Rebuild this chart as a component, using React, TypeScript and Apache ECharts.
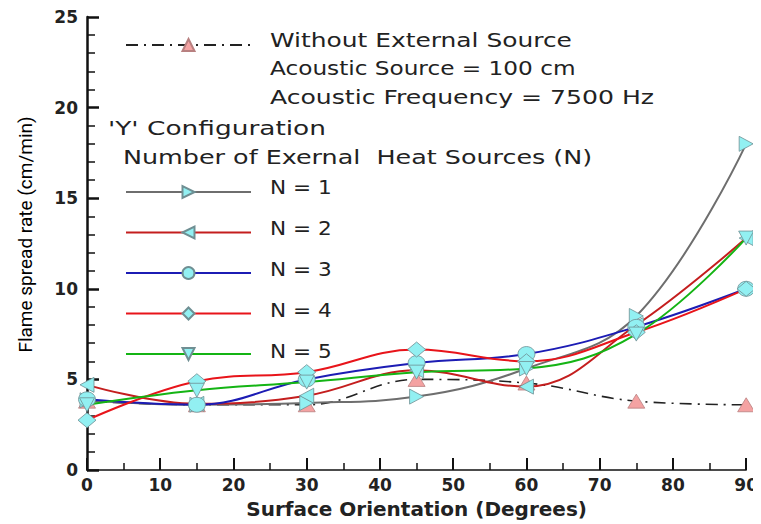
import React, { useEffect, useRef } from 'react';
import * as echarts from 'echarts';

const angles = [0, 15, 30, 45, 60, 75, 90];
const withoutSource = [3.8, 3.6, 3.6, 5.0, 4.8, 3.8, 3.6];
const n1 = [3.85, 3.6, 3.7, 4.05, 5.6, 8.5, 18.0];
const n2 = [4.7, 3.65, 4.1, 5.5, 4.6, 8.0, 12.8];
const n3 = [3.9, 3.6, 5.0, 5.9, 6.4, 7.9, 10.0];
const n4 = [2.75, 4.9, 5.4, 6.65, 6.0, 7.6, 10.0];
const n5 = [3.6, 4.4, 4.85, 5.4, 5.6, 7.5, 12.8];

const withoutName = 'Without External Source';
const nNames = ['N = 1', 'N = 2', 'N = 3', 'N = 4', 'N = 5'];
const noteLines = ['Acoustic Source = 100 cm', 'Acoustic Frequency = 7500 Hz'];
const configLine = "'Y' Configuration";
const numberLine = 'Number of Exernal\u00a0 Heat Sources (N)';

const FONT = 'DejaVu Sans';
const CYAN = '#92f0f2';
const MARKER_BORDER = '#6f8f93';

const pair = (ys: number[]) => ys.map((y, i) => [angles[i], y]);

export default function App() {
  const ref = useRef<HTMLDivElement>(null);
  useEffect(() => {
    if (!ref.current) return;
    const chart = echarts.init(ref.current, null, { renderer: 'svg' });
    const nSeries = [
      { name: nNames[0], data: n1, color: '#6e6e6e', symbol: 'triangle', rot: -90, size: [15, 14] },
      { name: nNames[1], data: n2, color: '#c41e1e', symbol: 'triangle', rot: 90, size: [15, 14] },
      { name: nNames[2], data: n3, color: '#1c1cb4', symbol: 'circle', rot: 0, size: [17, 15] },
      { name: nNames[3], data: n4, color: '#e8141a', symbol: 'diamond', rot: 0, size: [18, 15] },
      { name: nNames[4], data: n5, color: '#14b414', symbol: 'triangle', rot: 180, size: [15, 14] },
    ].map((s) => ({
      type: 'line',
      name: s.name,
      data: pair(s.data),
      smooth: 0.4,
      symbol: s.symbol,
      symbolRotate: s.rot,
      symbolSize: s.size,
      showAllSymbol: true,
      lineStyle: { color: s.color, width: 2 },
      itemStyle: { color: CYAN, borderColor: MARKER_BORDER, borderWidth: 0.8 },
      z: 3,
    }));
    const textEl = (t: string, x: number, y: number, sx: number) => ({
      type: 'text',
      x,
      y,
      scaleX: sx,
      style: {
        text: t,
        x: 0,
        y: 0,
        fill: '#222',
        font: `20px "${FONT}"`,
        textAlign: 'left',
        textVerticalAlign: 'middle',
      },
      z: 10,
    });
    const graphics: any[] = [
      textEl(withoutName, 270, 40, 1.245),
      textEl(noteLines[0], 270, 68, 1.16),
      textEl(noteLines[1], 270, 97, 1.255),
      textEl(configLine, 108, 128, 1.32),
      textEl(numberLine, 123, 157, 1.27),
      ...nNames.map((n, i) => textEl(n, 270, 187 + 41 * i, 1.08)),
    ];
    chart.setOption({
      animation: false,
      grid: { left: 87, right: 12, top: 17, bottom: 52, containLabel: false },
      legend: [
        {
          data: [withoutName],
          left: 120,
          top: 32.5,
          itemWidth: 125,
          itemHeight: 15,
          formatter: () => '',
          textStyle: { fontSize: 10 },
        },
        {
          data: nNames,
          orient: 'vertical',
          left: 120,
          top: 179.5,
          itemWidth: 125,
          itemHeight: 15,
          itemGap: 26,
          formatter: () => '',
          textStyle: { fontSize: 10 },
        },
      ],
      xAxis: {
        type: 'value',
        min: 0,
        max: 90,
        interval: 10,
        name: 'Surface Orientation (Degrees)',
        nameLocation: 'middle',
        nameGap: 29,
        nameTextStyle: { fontFamily: FONT, fontWeight: 'bold', fontSize: 20, color: '#222' },
        axisLine: { lineStyle: { color: '#111', width: 1.5 } },
        axisTick: { inside: true, length: 12, lineStyle: { color: '#111', width: 2 } },
        minorTick: { show: true, splitNumber: 2, length: 7, lineStyle: { color: '#111', width: 1.5 } },
        splitLine: { show: false },
        axisLabel: { fontFamily: FONT, fontWeight: 'bold', fontSize: 17, color: '#222', margin: 6 },
      },
      yAxis: {
        type: 'value',
        min: 0,
        max: 25,
        interval: 5,
        name: 'Flame spread rate (cm/min)',
        nameLocation: 'middle',
        nameGap: 52,
        nameTextStyle: { fontFamily: 'Roboto', fontSize: 19, color: '#000', padding: [0, 0, 0, 18] },
        axisLine: { lineStyle: { color: '#111', width: 2.5 } },
        axisTick: { inside: true, length: 12, lineStyle: { color: '#111', width: 2.5 } },
        minorTick: { show: true, splitNumber: 5, length: 8, lineStyle: { color: '#111', width: 1.5 } },
        splitLine: { show: false },
        axisLabel: { fontFamily: FONT, fontWeight: 'bold', fontSize: 17, color: '#222', margin: 9 },
      },
      graphic: graphics,
      series: [
        {
          type: 'line',
          name: withoutName,
          data: pair(withoutSource),
          smooth: 0.4,
          symbol: 'triangle',
          symbolSize: [17, 14],
          showAllSymbol: true,
          lineStyle: { color: '#222', width: 1.6, type: [12, 6, 2, 6] },
          itemStyle: { color: '#f4a2a2', borderColor: '#b88080', borderWidth: 0.8 },
          z: 2,
        },
        ...nSeries,
      ],
    } as any);
    return () => chart.dispose();
  }, []);
  return <div ref={ref} style={{ width: 761, height: 524, marginLeft: -8, marginTop: -8 }} />;
}
